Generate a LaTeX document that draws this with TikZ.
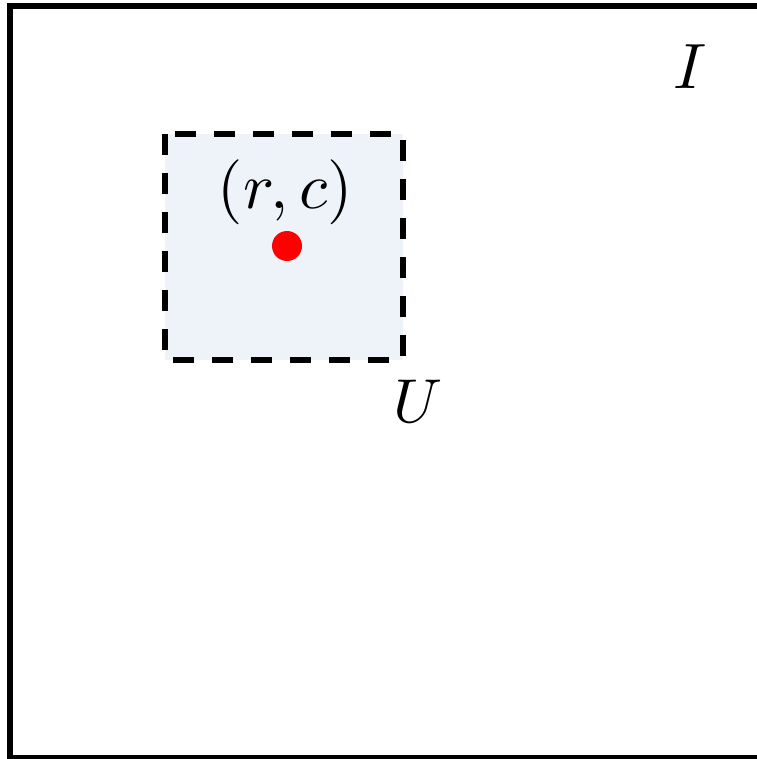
\documentclass[tikz,border=0pt]{standalone}
\usepackage{graphicx}
\definecolor{boxfill}{RGB}{238,243,250}
\definecolor{dotred}{RGB}{255,0,0}
\tikzset{
  outerframe/.style={draw=black, line width=6pt},
  window/.style={draw=black, line width=6pt, dash pattern=on 21pt off 18pt, fill=boxfill},
  mathlabel/.style={inner sep=0pt}
}
\begin{document}
\begin{tikzpicture}[x=1pt,y=-1pt]
\useasboundingbox (0,0) rectangle (756,759);
\draw[outerframe] (10,6) rectangle (768,758);
\draw[window] (165,134) rectangle (403,360);
\fill[dotred] (287,246) circle (15);
\node[mathlabel] (rc) at (285.5,192.5) {\scalebox{6.5}{$(r,c)$}};
\node[mathlabel] (U) at (418,401) {\scalebox{6.2}{$U$}};
\node[mathlabel] (I) at (690,67) {\scalebox{6.4}{$I$}};
\end{tikzpicture}
\end{document}
